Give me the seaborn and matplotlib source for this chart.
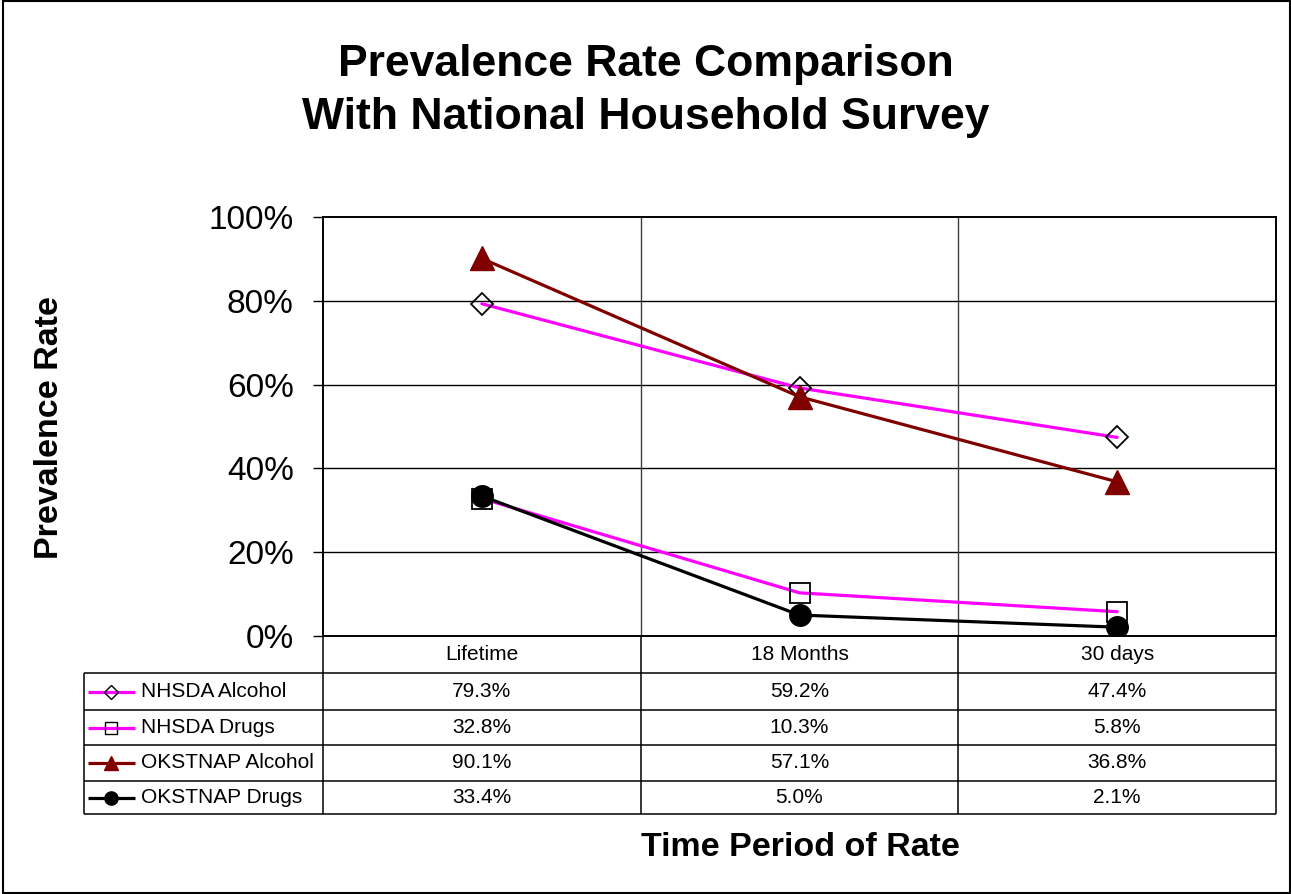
import matplotlib
matplotlib.use("Agg")
import matplotlib.pyplot as plt
import numpy as np
import pandas as pd
import seaborn as sns
from matplotlib.ticker import PercentFormatter
from matplotlib.patches import Rectangle

# ---- data -------------------------------------------------------------
periods = ["Lifetime", "18 Months", "30 days"]
series_names = ["NHSDA Alcohol", "NHSDA Drugs", "OKSTNAP Alcohol", "OKSTNAP Drugs"]
nhsda_alcohol = [79.3, 59.2, 47.4]
nhsda_drugs = [32.8, 10.3, 5.8]
okstnap_alcohol = [90.1, 57.1, 36.8]
okstnap_drugs = [33.4, 5.0, 2.1]
y_ticks = [0, 20, 40, 60, 80, 100]

values = {
    "NHSDA Alcohol": nhsda_alcohol,
    "NHSDA Drugs": nhsda_drugs,
    "OKSTNAP Alcohol": okstnap_alcohol,
    "OKSTNAP Drugs": okstnap_drugs,
}

df = pd.DataFrame(
    [
        {"series": name, "period": p, "pos": i, "rate": values[name][i]}
        for name in series_names
        for i, p in enumerate(periods)
    ]
)

# ---- styles -----------------------------------------------------------
MAGENTA = "#FF00FF"
MAROON = "#800000"
styles = {
    "NHSDA Alcohol": dict(color=MAGENTA, marker="D", ms=11.5, mfc="none", mec="black", mew=1.3, lms=7),
    "NHSDA Drugs": dict(color=MAGENTA, marker="s", ms=15, mfc="none", mec="black", mew=1.3, lms=8.5),
    "OKSTNAP Alcohol": dict(color=MAROON, marker="^", ms=17, mfc=MAROON, mec=MAROON, mew=1.0, lms=10.5),
    "OKSTNAP Drugs": dict(color="black", marker="o", ms=15.5, mfc="black", mec="black", mew=1.0, lms=9.5),
}
LINE_W = 2.3

sns.set_theme(style="white")
plt.rcParams["font.family"] = ["Liberation Sans", "DejaVu Sans"]
plt.rcParams.update({
    "text.color": "black",
    "axes.labelcolor": "black",
    "xtick.color": "black",
    "ytick.color": "black",
})

W, H = 1291, 894
fig = plt.figure(figsize=(W / 100, H / 100), dpi=100)
fig.patch.set_facecolor("white")


def fx(px):
    return px / W


def fy(py):
    return 1 - py / H


# plot-area and table geometry (pixels)
AX_L, AX_R, AX_T, AX_B = 323, 1276, 217, 636
TB_L = 84
ROW_EDGES = [636, 673, 710, 745, 781, 814]
TB_B = ROW_EDGES[-1]


def x_at(px):
    return -0.5 + (px - AX_L) * len(periods) / (AX_R - AX_L)


# ---- main chart -------------------------------------------------------
ax = fig.add_axes([fx(AX_L), fy(AX_B), (AX_R - AX_L) / W, (AX_B - AX_T) / H])
ax.set_facecolor("white")

for t in y_ticks[1:-1]:
    ax.axhline(t, color="black", lw=1.0, zorder=1)
for b in np.arange(0.5, len(periods) - 1, 1.0):
    ax.axvline(b, color="#404040", lw=1.0, zorder=1)

for name in series_names:
    st = styles[name]
    sns.lineplot(
        data=df[df["series"] == name], x="pos", y="rate", ax=ax,
        color=st["color"], lw=LINE_W, marker=st["marker"], markersize=st["ms"],
        markerfacecolor=st["mfc"], markeredgecolor=st["mec"], markeredgewidth=st["mew"],
        errorbar=None, legend=False, zorder=3,
    )

ax.set_xlim(-0.5, len(periods) - 0.5)
ax.set_ylim(0, 100)
ax.set_yticks(y_ticks)
ax.yaxis.set_major_formatter(PercentFormatter(100, decimals=0))
ax.set_xticks([])
ax.set_xlabel("")
ax.set_ylabel("")
ax.tick_params(axis="y", direction="out", length=7, width=1, color="black",
               labelsize=24, labelcolor="black", pad=14, left=True)
for s in ax.spines.values():
    s.set_color("black")
    s.set_linewidth(1.4)

# ---- data table with legend keys -------------------------------------
tax = fig.add_axes([fx(TB_L), fy(TB_B), (AX_R - TB_L) / W, (TB_B - AX_B) / H])
tax.set_xlim(x_at(TB_L), len(periods) - 0.5)
tax.set_ylim(TB_B, AX_B)
tax.axis("off")

tax.hlines(ROW_EDGES[1:], x_at(TB_L), len(periods) - 0.5,
           color="black", lw=1.1, clip_on=False)
tax.vlines(np.arange(-0.5, len(periods), 1.0), AX_B, TB_B, color="black", lw=1.1, clip_on=False)
tax.vlines([x_at(TB_L)], ROW_EDGES[1], TB_B, color="black", lw=1.1, clip_on=False)

centers = [(a + b) / 2 for a, b in zip(ROW_EDGES[:-1], ROW_EDGES[1:])]

for i, p in enumerate(periods):
    tax.text(i, centers[0], p, ha="center", va="center", fontsize=15, color="black")

for r, name in enumerate(series_names):
    yc = centers[r + 1]
    st = styles[name]
    tax.plot([x_at(88), x_at(135)], [yc, yc], color=st["color"], lw=LINE_W,
             solid_capstyle="butt", clip_on=False)
    tax.plot([x_at(111)], [yc], marker=st["marker"], ms=st["lms"], mfc=st["mfc"],
             mec=st["mec"], mew=1.0, linestyle="none", clip_on=False)
    tax.text(x_at(141), yc, name, ha="left", va="center", fontsize=15, color="black")
    for i, v in enumerate(values[name]):
        tax.text(i, yc, f"{v:.1f}%", ha="center", va="center", fontsize=15, color="black")

# ---- titles -----------------------------------------------------------
fig.text(fx(646), fy(91), "Prevalence Rate Comparison\nWith National Household Survey",
         ha="center", va="center", fontsize=32, fontweight="bold", linespacing=1.39)
fig.text(fx(50), fy(428), "Prevalence Rate", rotation=90, ha="center", va="center",
         fontsize=24.5, fontweight="bold")
fig.text(fx(800), fy(847), "Time Period of Rate", ha="center", va="center",
         fontsize=24.5, fontweight="bold")

# outer frame
fig.patches.append(Rectangle((fx(3), fy(893)), (1290 - 3) / W, (893 - 1) / H,
                             transform=fig.transFigure, fill=False, ec="black", lw=1.5))

fig.savefig("out.png", dpi=100, facecolor="white")
